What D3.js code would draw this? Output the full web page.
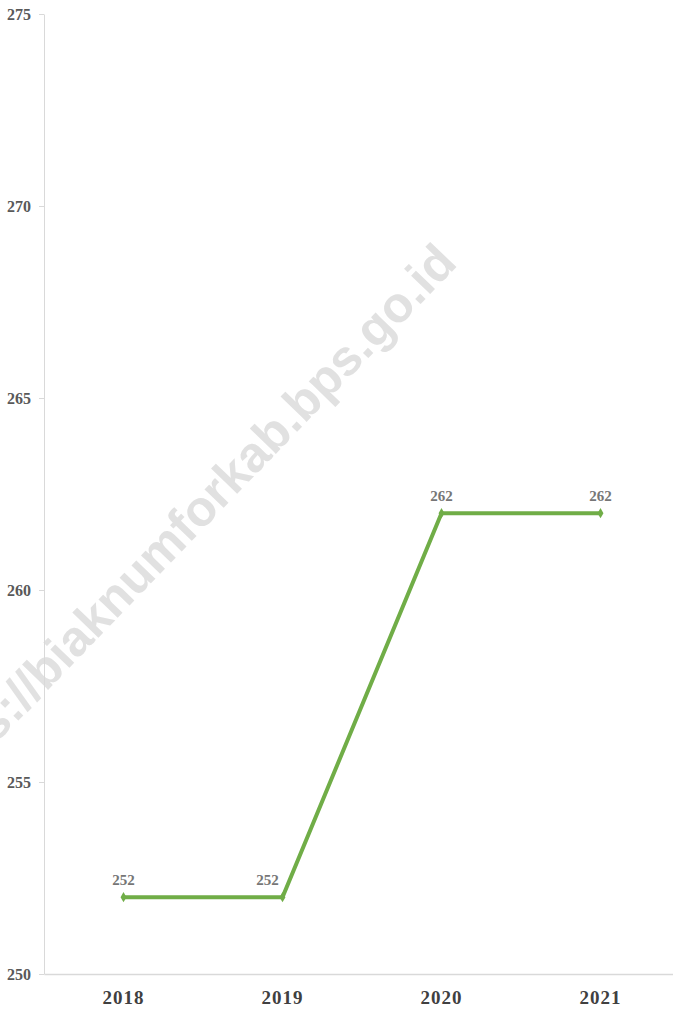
<!DOCTYPE html>
<html>
<head>
<meta charset="utf-8">
<script src="https://cdn.jsdelivr.net/npm/d3@7"></script>
<style>
  body { margin: 0; background: #fff; }
</style>
</head>
<body>
<svg id="chart" width="673" height="1009"></svg>
<script>
var years = ["2018", "2019", "2020", "2021"];
var values = [252, 252, 262, 262];
var yTicks = [250, 255, 260, 265, 270, 275];

var line_color = '#70AD47'; // excel green
var axis_color = '#d9d9d9';

var svg = d3.select("#chart"),
    width = +svg.attr("width"),
    height = +svg.attr("height");

var x = d3.scaleBand().domain(years).range([44, 680]);
var y = d3.scaleLinear().domain([250, 275]).range([974, 14]);

// watermark
svg.append("text")
    .attr("transform", "translate(-70,812) rotate(-46)")
    .attr("font-family", "Liberation Sans, Arial, sans-serif")
    .attr("font-weight", "bold")
    .attr("font-size", 50)
    .attr("fill", "#e1e1e1")
    .text("https://biaknumforkab.bps.go.id");

// y axis
var yAxis = svg.append("g")
    .attr("transform", "translate(44,0)")
    .call(d3.axisLeft(y).tickValues(yTicks).tickSize(5).tickSizeOuter(0).tickPadding(8));
yAxis.select(".domain").attr("stroke", axis_color);
yAxis.selectAll(".tick line").attr("stroke", axis_color);
yAxis.selectAll(".tick text")
    .attr("font-family", "Liberation Serif, Times New Roman, serif")
    .attr("font-weight", "bold")
    .attr("font-size", 16)
    .attr("fill", "#595959");

// x axis
var xAxis = svg.append("g")
    .attr("transform", "translate(0,974)")
    .call(d3.axisBottom(x).tickSize(0).tickPadding(17));
xAxis.select(".domain").attr("stroke", axis_color).attr("stroke-width", 1.5);
xAxis.selectAll(".tick text")
    .attr("font-family", "Liberation Serif, Times New Roman, serif")
    .attr("font-weight", "bold")
    .attr("font-size", 19)
    .attr("letter-spacing", 1)
    .attr("fill", "#404040");

var data = years.map(function(d, i) { return {year: d, value: values[i]}; });

var lineFunction = d3.line()
    .x(function(d) { return x(d.year) + x.bandwidth() / 2; })
    .y(function(d) { return y(d.value); });

svg.append("path")
    .attr("d", lineFunction(data))
    .attr("stroke", line_color)
    .attr("stroke-width", 4)
    .attr("stroke-linejoin", "miter")
    .attr("fill", "none");

svg.selectAll(".marker")
    .data(data)
    .enter().append("path")
    .attr("class", "marker")
    .attr("d", d3.symbol().type(d3.symbolDiamond).size(30))
    .attr("transform", function(d) {
        return "translate(" + (x(d.year) + x.bandwidth() / 2) + "," + y(d.value) + ")";
    })
    .attr("fill", line_color);

// 2019 label sits left of the rising line
svg.selectAll(".label")
    .data(data)
    .enter().append("text")
    .attr("class", "label")
    .attr("x", function(d, i) { return x(d.year) + x.bandwidth() / 2 + (i == 1 ? -15 : 0); })
    .attr("y", function(d) { return y(d.value) - 12; })
    .attr("text-anchor", "middle")
    .attr("font-family", "Liberation Serif, Times New Roman, serif")
    .attr("font-weight", "bold")
    .attr("font-size", 15)
    .attr("fill", "#767676")
    .text(function(d) { return d.value; });
</script>
</body>
</html>
